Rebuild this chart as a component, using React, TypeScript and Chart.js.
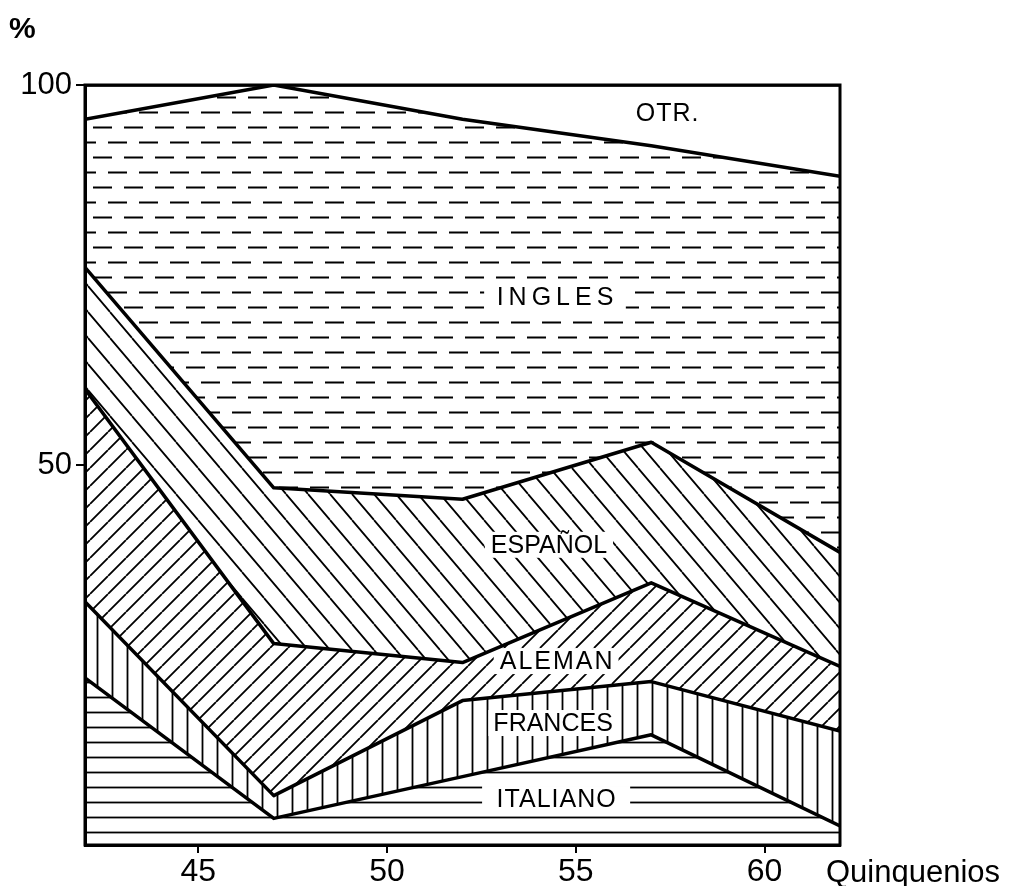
import React, { useEffect, useRef } from "react";
import { Chart, registerables } from "chart.js";
Chart.register(...registerables);

// ---- data (shares in %, per quinquenio) ----
const quinquenios = [42, 47, 52, 57, 62];
const italiano = [22, 3.5, 9, 14.5, 2.5];
const frances = [10, 3, 10, 7, 12.5];
const aleman = [28, 20, 5, 13, 8.5];
const espanol = [16, 20.5, 21.5, 18.5, 15];
const ingles = [19.5, 53, 50, 39, 49.5];
const otros = [4.5, 0, 4.5, 8, 12];
const xTicks = [45, 50, 55, 60];
const yTicks = [50, 100];
const seriesNames = ["ITALIANO", "FRANCES", "ALEMAN", "ESPAÑOL", "INGLES", "OTR."];

// label anchor positions (data coordinates), horizontal white padding, letter spacing
const labelX = [54.48, 54.4, 54.48, 54.29, 54.45, 57.42];
const labelY = [6.05, 16.05, 24.2, 39.5, 72.1, 96.3];
const labelPad = [14, 5, 5, 6, 10, 0];
const labelSpacing = [1, 0, 2, 0, 5, 1];

function makePattern(kind: string): CanvasPattern | string {
  const c = document.createElement("canvas");
  let w = 15, h = 15;
  if (kind === "diagUp") { w = 18; h = 18; }
  if (kind === "diagDown") { w = 22; h = 26; }
  if (kind === "dashes") { w = 31; h = 30; }
  c.width = w; c.height = h;
  const ctx = c.getContext("2d")!;
  ctx.strokeStyle = "#000";
  ctx.lineWidth = 1.8;
  ctx.beginPath();
  if (kind === "hLines") {
    ctx.moveTo(0, 7.5); ctx.lineTo(w, 7.5);
  } else if (kind === "vLines") {
    ctx.moveTo(7.5, 0); ctx.lineTo(7.5, h);
  } else if (kind === "diagUp") {
    for (let k = -1; k <= 1; k++) { ctx.moveTo(k * w, h); ctx.lineTo(k * w + w, 0); }
  } else if (kind === "diagDown") {
    for (let k = -1; k <= 1; k++) { ctx.moveTo(k * w, 0); ctx.lineTo(k * w + w, h); }
  } else if (kind === "dashes") {
    ctx.moveTo(0, 7.5); ctx.lineTo(19, 7.5);
    ctx.moveTo(15, 22.5); ctx.lineTo(31, 22.5);
    ctx.moveTo(0, 22.5); ctx.lineTo(3, 22.5);
  }
  ctx.stroke();
  const p = ctx.createPattern(c, "repeat");
  return p || "rgba(0,0,0,0)";
}

export default function App() {
  const ref = useRef<HTMLCanvasElement | null>(null);

  useEffect(() => {
    if (!ref.current) return;
    const series = [italiano, frances, aleman, espanol, ingles, otros];
    const patterns = [
      makePattern("hLines"),
      makePattern("vLines"),
      makePattern("diagUp"),
      makePattern("diagDown"),
      makePattern("dashes"),
      "rgba(255,255,255,0)",
    ];
    const datasets = series.map((vals, i) => ({
      label: seriesNames[i],
      data: quinquenios.map((x, j) => ({ x, y: vals[j] })),
      fill: i === 0 ? "origin" : "-1",
      backgroundColor: patterns[i] as any,
      borderColor: "#000",
      borderWidth: 3.5,
      borderJoinStyle: "round" as const,
      pointRadius: 0,
      tension: 0,
    }));

    const decor = {
      id: "decor",
      beforeDatasetsDraw(chart: any) {
        const ctx = chart.ctx;
        const xs = chart.scales.x, ys = chart.scales.y;
        ctx.save();
        ctx.font = "25px 'Liberation Sans', Arial, sans-serif";
        ctx.textAlign = "center";
        ctx.textBaseline = "middle";
        seriesNames.forEach((name, i) => {
          (ctx as any).letterSpacing = labelSpacing[i] + "px";
          const px = xs.getPixelForValue(labelX[i]);
          const py = ys.getPixelForValue(labelY[i]);
          const tw = ctx.measureText(name).width;
          ctx.fillStyle = "#fff";
          ctx.fillRect(px - tw / 2 - labelPad[i], py - 13, tw + 2 * labelPad[i], 26);
          ctx.fillStyle = "#000";
          ctx.fillText(name, px + labelSpacing[i] / 2, py + 1);
        });
        ctx.restore();
      },
      afterDraw(chart: any) {
        const ctx = chart.ctx;
        const a = chart.chartArea;
        ctx.save();
        ctx.strokeStyle = "#000";
        ctx.lineWidth = 3;
        ctx.strokeRect(a.left, a.top, a.right - a.left, a.bottom - a.top);
        ctx.fillStyle = "#000";
        ctx.font = "bold 30px 'Liberation Sans', Arial, sans-serif";
        ctx.textAlign = "left";
        ctx.textBaseline = "alphabetic";
        ctx.fillText("%", 9, 38);
        ctx.font = "31px 'Liberation Sans', Arial, sans-serif";
        ctx.fillText("Quinquenios", 826, 882);
        ctx.restore();
      },
    };

    const chart = new Chart(ref.current, {
      type: "line",
      data: { datasets: datasets as any },
      options: {
        animation: false,
        responsive: false,
        devicePixelRatio: 1,
        layout: { padding: { left: 0, top: 85, right: 170, bottom: 0 } },
        plugins: {
          legend: { display: false },
          tooltip: { enabled: false },
          filler: { drawTime: "beforeDatasetsDraw" } as any,
        },
        scales: {
          x: {
            type: "linear",
            min: 42,
            max: 62,
            afterBuildTicks: (s: any) => { s.ticks = xTicks.map((v) => ({ value: v })); },
            afterFit: (s: any) => { s.height = 41; },
            grid: { display: true, drawOnChartArea: false, drawTicks: true, tickLength: 8, lineWidth: 2, color: "#000" },
            border: { display: true, width: 3, color: "#000" },
            ticks: { color: "#000", font: { size: 32, family: "'Liberation Sans', Arial, sans-serif" }, padding: 0, maxRotation: 0 },
          },
          y: {
            type: "linear",
            stacked: true,
            min: 0,
            max: 100,
            afterBuildTicks: (s: any) => { s.ticks = yTicks.map((v) => ({ value: v })); },
            afterFit: (s: any) => { s.width = 85; },
            grid: { display: true, drawOnChartArea: false, drawTicks: true, tickLength: 9, lineWidth: 2, color: "#000" },
            border: { display: true, width: 3, color: "#000" },
            ticks: { color: "#000", font: { size: 31, family: "'Liberation Sans', Arial, sans-serif" }, padding: 4 },
          },
        },
      },
      plugins: [decor],
    });
    return () => chart.destroy();
  }, []);

  return (
    <div style={{ position: "absolute", left: 0, top: 0, width: 1010, height: 886, background: "#fff" }}>
      <canvas ref={ref} width={1010} height={886} />
    </div>
  );
}
